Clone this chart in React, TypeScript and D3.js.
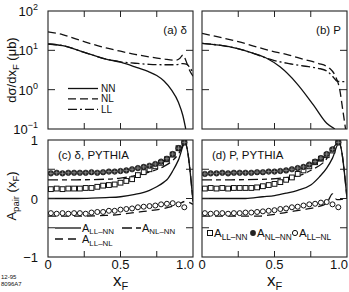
import React from "react";
import * as d3 from "d3";

const W = 349;
const H = 292;
const FONT = "'Liberation Sans', Arial, Helvetica, sans-serif";

// ---------- top panels: dσ/dxF (μb) ----------
const aNNx = [0, 0.1, 0.25, 0.4, 0.5, 0.6, 0.7, 0.75, 0.8, 0.85, 0.9, 0.93, 0.95];
const aNNy = [14.5, 13.2, 8.9, 6.0, 5.0, 3.8, 2.8, 2.3, 1.66, 1.0, 0.47, 0.22, 0.1];
const aNLx = [0, 0.1, 0.25, 0.4, 0.5, 0.6, 0.7, 0.8, 0.88, 0.91, 0.93, 0.95, 0.97, 1.0];
const aNLy = [29.5, 25.1, 16.6, 11.5, 9.5, 7.9, 6.8, 6.0, 5.6, 6.3, 7.6, 5.6, 3.5, 2.2];
const aLLx = [0, 0.1, 0.25, 0.4, 0.5, 0.6, 0.7, 0.8, 0.88, 0.93, 0.96, 0.98, 1.0];
const aLLy = [14.5, 13.2, 8.9, 6.0, 5.1, 4.7, 4.4, 4.3, 4.3, 4.6, 4.4, 3.5, 2.8];

const bNNx = [0, 0.12, 0.24, 0.35, 0.446, 0.538, 0.653, 0.768, 0.86, 0.917];
const bNNy = [15.1, 13.5, 11.2, 8.5, 6.3, 3.8, 1.45, 0.41, 0.14, 0.1];
const bNLx = [0, 0.25, 0.47, 0.6, 0.7, 0.8, 0.88, 0.92, 0.95, 0.97, 0.99];
const bNLy = [26.9, 16.6, 9.8, 7.6, 5.9, 4.7, 3.5, 2.2, 1.0, 0.32, 0.1];
const bLLx = [0, 0.12, 0.24, 0.35, 0.446, 0.5, 0.6, 0.7, 0.8, 0.86, 0.9, 0.93, 0.96, 1.0];
const bLLy = [15.1, 13.5, 11.2, 8.5, 6.3, 5.5, 4.6, 4.0, 3.5, 3.0, 2.2, 1.66, 1.6, 1.6];

const topYTicks = [0.1, 1, 10, 100];
const topYExp = ["−1", "0", "1", "2"];

// ---------- bottom panels: A_pair(xF) ----------
const markX = [0.02, 0.06, 0.1, 0.14, 0.18, 0.22, 0.26, 0.3, 0.34, 0.38, 0.42, 0.46,
  0.5, 0.54, 0.58, 0.62, 0.66, 0.7, 0.74, 0.78, 0.82, 0.86, 0.9, 0.94];

const cNLNN = [0.43, 0.44, 0.43, 0.44, 0.44, 0.44, 0.44, 0.45, 0.44, 0.45, 0.46, 0.46,
  0.47, 0.48, 0.50, 0.52, 0.54, 0.56, 0.59, 0.63, 0.68, 0.76, 0.86, 0.96];
const cLLNN = [0.16, 0.17, 0.16, 0.17, 0.17, 0.17, 0.18, 0.18, 0.20, 0.22, 0.23, 0.24,
  0.27, 0.30, 0.33, 0.40, 0.45, 0.50, 0.55, 0.61, 0.67, 0.75, 0.86, 0.96];
const cLLNL = [-0.25, -0.26, -0.25, -0.26, -0.25, -0.25, -0.26, -0.24, -0.23, -0.23, -0.21, -0.21,
  -0.19, -0.18, -0.17, -0.15, -0.14, -0.13, -0.12, -0.10, -0.09, -0.08, -0.10, -0.15];

const dNLNN = [0.42, 0.43, 0.43, 0.44, 0.43, 0.44, 0.44, 0.44, 0.44, 0.45, 0.45, 0.46,
  0.46, 0.47, 0.48, 0.50, 0.52, 0.54, 0.58, 0.63, 0.69, 0.76, 0.84, 0.96];
const dLLNN = [0.17, 0.18, 0.17, 0.18, 0.17, 0.18, 0.18, 0.18, 0.18, 0.19, 0.21, 0.23,
  0.25, 0.28, 0.32, 0.36, 0.42, 0.48, 0.55, 0.62, 0.68, 0.74, 0.82, 0.96];
const dLLNL = [-0.25, -0.26, -0.25, -0.25, -0.26, -0.25, -0.25, -0.24, -0.24, -0.23, -0.22, -0.21,
  -0.20, -0.18, -0.17, -0.15, -0.14, -0.12, -0.10, -0.09, -0.07, -0.06, -0.10, -0.15];

const cLineLLNNx = [0, 0.1, 0.2, 0.3, 0.4, 0.5, 0.6, 0.7, 0.75, 0.8, 0.82, 0.86, 0.9, 0.945, 1.0];
const cLineLLNNy = [0, 0, 0, 0.005, 0.015, 0.03, 0.07, 0.14, 0.2, 0.28, 0.32, 0.47, 0.66, 0.95, -0.05];
const cLineNLNNx = [0, 0.2, 0.4, 0.5, 0.6, 0.7, 0.8, 0.85, 0.9, 0.945, 1.0];
const cLineNLNNy = [0.32, 0.32, 0.33, 0.35, 0.39, 0.45, 0.55, 0.63, 0.76, 0.95, -0.05];
const cLineLLNLx = [0, 0.2, 0.4, 0.5, 0.6, 0.7, 0.8, 0.85, 0.9, 0.945, 1.0];
const cLineLLNLy = [-0.3, -0.3, -0.29, -0.27, -0.24, -0.21, -0.17, -0.14, -0.1, -0.05, -0.1];

const dLineLLNNx = [0, 0.2, 0.3, 0.42, 0.5, 0.58, 0.66, 0.75, 0.81, 0.86, 0.9, 0.945, 1.0];
const dLineLLNNy = [0, 0, 0, 0.03, 0.05, 0.09, 0.14, 0.23, 0.37, 0.52, 0.69, 0.95, 0.0];
const dLineNLNNx = [0, 0.2, 0.45, 0.55, 0.68, 0.75, 0.84, 0.945, 1.0];
const dLineNLNNy = [0.32, 0.32, 0.33, 0.35, 0.4, 0.48, 0.62, 0.95, 0.0];
const dLineLLNLx = [0, 0.2, 0.4, 0.5, 0.6, 0.7, 0.8, 0.86, 0.9, 0.93, 1.0];
const dLineLLNLy = [-0.3, -0.3, -0.3, -0.27, -0.23, -0.19, -0.14, -0.08, 0.08, -0.02, 0.0];

const xTicks = [0.25, 0.5, 0.75];
const botYTicks = [-0.5, 0, 0.5];

// ---------- geometry ----------
const LEFT = [48, 202];
const PW = 145;
const TOP = { y0: 11, y1: 129 };
const BOT = { y0: 140, y1: 257 };

const zip = (xs: number[], ys: number[]) => xs.map((x, i) => [x, ys[i]] as [number, number]);

function Frame({ x0, y0, y1 }: { x0: number; y0: number; y1: number }) {
  return <rect x={x0} y={y0} width={PW} height={y1 - y0} fill="none" stroke="#222" strokeWidth={1.1} />;
}

function Sub({ x, y, main, sub, size, anchor = "start" }: any) {
  return (
    <text x={x} y={y} fontSize={size} textAnchor={anchor} fontFamily={FONT} fill="#111">
      {main}
      <tspan fontSize={size * 0.72} dy={size * 0.25}>{sub}</tspan>
    </text>
  );
}

function TopPanel({ idx, nn, nl, ll, label }: any) {
  const x0 = LEFT[idx];
  const xs = d3.scaleLinear([0, 1], [x0, x0 + PW]);
  const ys = d3.scaleLog([0.1, 100], [TOP.y1, TOP.y0]);
  const line = d3.line<[number, number]>().x((d) => xs(d[0])).y((d) => ys(Math.max(d[1], 0.1))).curve(d3.curveMonotoneX);
  const clipId = `clipT${idx}`;
  return (
    <g>
      <defs>
        <clipPath id={clipId}><rect x={x0} y={TOP.y0} width={PW} height={TOP.y1 - TOP.y0} /></clipPath>
      </defs>
      <g clipPath={`url(#${clipId})`} fill="none" stroke="#111" strokeWidth={1.3}>
        <path d={line(nl) || ""} strokeDasharray="8,4" />
        <path d={line(ll) || ""} strokeDasharray="9,3,2,3" />
        <path d={line(nn) || ""} />
      </g>
      <Frame x0={x0} y0={TOP.y0} y1={TOP.y1} />
      {xTicks.map((t) => (
        <g key={t} stroke="#222" strokeWidth={1}>
          <line x1={xs(t)} x2={xs(t)} y1={TOP.y0} y2={TOP.y0 + 6} />
          <line x1={xs(t)} x2={xs(t)} y1={TOP.y1} y2={TOP.y1 - 6} />
        </g>
      ))}
      {topYTicks.slice(1, 3).map((t) => (
        <g key={t} stroke="#222" strokeWidth={1}>
          <line x1={x0} x2={x0 + 7} y1={ys(t)} y2={ys(t)} />
          <line x1={x0 + PW} x2={x0 + PW - 7} y1={ys(t)} y2={ys(t)} />
        </g>
      ))}
      <text x={x0 + PW - 6} y={TOP.y0 + 23} fontSize={11.5} textAnchor="end" fontFamily={FONT} fill="#111">{label}</text>
    </g>
  );
}

function Markers({ xs, ys, vals, kind }: any) {
  return (
    <g>
      {markX.map((x: number, i: number) => {
        const cx = xs(x);
        const cy = ys(vals[i]);
        if (kind === "sq")
          return <rect key={i} x={cx - 2.4} y={cy - 2.4} width={4.8} height={4.8} fill="white" stroke="#111" strokeWidth={1} />;
        if (kind === "open")
          return <circle key={i} cx={cx} cy={cy} r={2.5} fill="white" stroke="#111" strokeWidth={1} />;
        return (
          <g key={i}>
            <circle cx={cx} cy={cy} r={2.8} fill="#2a2a2a" stroke="#111" strokeWidth={0.5} />
            <line x1={cx - 2.1} x2={cx + 2.1} y1={cy} y2={cy} stroke="#aaa" strokeWidth={0.6} />
            <line x1={cx} x2={cx} y1={cy - 2.1} y2={cy + 2.1} stroke="#aaa" strokeWidth={0.6} />
          </g>
        );
      })}
    </g>
  );
}

function BotPanel({ idx, llnn, nlnn, llnl, lLLNN, lNLNN, lLLNL, label }: any) {
  const x0 = LEFT[idx];
  const xs = d3.scaleLinear([0, 1], [x0, x0 + PW]);
  const ys = d3.scaleLinear([-1, 1], [BOT.y1, BOT.y0]);
  const line = d3.line<[number, number]>().x((d) => xs(d[0])).y((d) => ys(d[1])).curve(d3.curveMonotoneX);
  const clipId = `clipB${idx}`;
  return (
    <g>
      <defs>
        <clipPath id={clipId}><rect x={x0} y={BOT.y0} width={PW} height={BOT.y1 - BOT.y0} /></clipPath>
      </defs>
      <g clipPath={`url(#${clipId})`}>
        <g fill="none" stroke="#111" strokeWidth={1.3}>
          <path d={line(lLLNL) || ""} strokeDasharray="8,5" />
          <path d={line(lNLNN) || ""} strokeDasharray="10,4,5,4" />
          <path d={line(lLLNN) || ""} />
        </g>
        <Markers xs={xs} ys={ys} vals={llnl} kind="open" />
        <Markers xs={xs} ys={ys} vals={llnn} kind="sq" />
        <Markers xs={xs} ys={ys} vals={nlnn} kind="filled" />
      </g>
      <Frame x0={x0} y0={BOT.y0} y1={BOT.y1} />
      {xTicks.map((t) => (
        <g key={t} stroke="#222" strokeWidth={1}>
          <line x1={xs(t)} x2={xs(t)} y1={BOT.y0} y2={BOT.y0 + 6} />
          <line x1={xs(t)} x2={xs(t)} y1={BOT.y1} y2={BOT.y1 - 6} />
        </g>
      ))}
      {botYTicks.map((t) => (
        <g key={t} stroke="#222" strokeWidth={1}>
          <line x1={x0} x2={x0 + 7} y1={ys(t)} y2={ys(t)} />
          <line x1={x0 + PW} x2={x0 + PW - 7} y1={ys(t)} y2={ys(t)} />
        </g>
      ))}
      <text x={x0 + 10} y={BOT.y0 + 19} fontSize={11.5} fontFamily={FONT} fill="#111">{label}</text>
      <text x={xs(0)} y={269} fontSize={13} textAnchor="middle" fontFamily={FONT} fill="#111">0</text>
      <text x={xs(0.5)} y={269} fontSize={13} textAnchor="middle" fontFamily={FONT} fill="#111">0.5</text>
      <text x={xs(1) + 1} y={269} fontSize={13} textAnchor="end" fontFamily={FONT} fill="#111">1.0</text>
      <text x={xs(0.5)} y={286} fontSize={17} textAnchor="middle" fontFamily={FONT} fill="#111">
        x<tspan fontSize={11} dy={4}>F</tspan>
      </text>
    </g>
  );
}

export default function App() {
  const ysTop = d3.scaleLog([0.1, 100], [TOP.y1, TOP.y0]);
  const ysBot = d3.scaleLinear([-1, 1], [BOT.y1, BOT.y0]);
  const legTop = [
    { name: "NN", dash: "" },
    { name: "NL", dash: "8,4" },
    { name: "LL", dash: "9,3,2,3" },
  ];
  return (
    <svg width={W} height={H} viewBox={`0 0 ${W} ${H}`}
      style={{ position: "fixed", left: 0, top: 0, background: "white" }}>
      <rect width={W} height={H} fill="white" />
      <TopPanel idx={0} nn={zip(aNNx, aNNy)} nl={zip(aNLx, aNLy)} ll={zip(aLLx, aLLy)} label="(a) δ" />
      <TopPanel idx={1} nn={zip(bNNx, bNNy)} nl={zip(bNLx, bNLy)} ll={zip(bLLx, bLLy)} label="(b) P" />
      <BotPanel idx={0} llnn={cLLNN} nlnn={cNLNN} llnl={cLLNL}
        lLLNN={zip(cLineLLNNx, cLineLLNNy)} lNLNN={zip(cLineNLNNx, cLineNLNNy)} lLLNL={zip(cLineLLNLx, cLineLLNLy)}
        label="(c) δ, PYTHIA" />
      <BotPanel idx={1} llnn={dLLNN} nlnn={dNLNN} llnl={dLLNL}
        lLLNN={zip(dLineLLNNx, dLineLLNNy)} lNLNN={zip(dLineNLNNx, dLineNLNNy)} lLLNL={zip(dLineLLNLx, dLineLLNLy)}
        label="(d) P, PYTHIA" />

      {topYTicks.map((t, i) => (
        <text key={t} x={38} y={ysTop(t) + 5} fontSize={13} textAnchor="end" fontFamily={FONT} fill="#111">
          10<tspan fontSize={9} dy={-6}>{topYExp[i]}</tspan>
        </text>
      ))}
      {[1, 0, -1].map((t) => (
        <text key={t} x={38} y={ysBot(t) + 5} fontSize={13} textAnchor="end" fontFamily={FONT} fill="#111">
          {t < 0 ? "−1" : String(t)}
        </text>
      ))}

      <text transform="translate(16,70) rotate(-90)" fontSize={13} textAnchor="middle" fontFamily={FONT} fill="#111">
        dσ/dx<tspan fontSize={9.5} dy={3}>F</tspan><tspan dy={-3}> (μb)</tspan>
      </text>
      <text transform="translate(16,196) rotate(-90)" fontSize={13} textAnchor="middle" fontFamily={FONT} fill="#111">
        A<tspan fontSize={9.5} dy={3}>pair</tspan><tspan dy={-3}> (x</tspan><tspan fontSize={9.5} dy={3}>F</tspan><tspan dy={-3}>)</tspan>
      </text>

      {legTop.map((l, i) => (
        <g key={l.name}>
          <line x1={68} x2={98} y1={88.5 + i * 10.4} y2={88.5 + i * 10.4} stroke="#111" strokeWidth={1.3} strokeDasharray={l.dash} />
          <text x={101} y={92 + i * 10.4} fontSize={10} fontFamily={FONT} fill="#111">{l.name}</text>
        </g>
      ))}

      <line x1={55} x2={81} y1={228} y2={228} stroke="#111" strokeWidth={1.3} />
      <Sub x={82} y={231.5} main="A" sub="LL–NN" size={11} />
      <line x1={122} x2={141} y1={228} y2={228} stroke="#111" strokeWidth={1.3} strokeDasharray="10,4,5,4" />
      <Sub x={142} y={231.5} main="A" sub="NL–NN" size={11} />
      <line x1={55} x2={79} y1={239} y2={239} stroke="#111" strokeWidth={1.3} strokeDasharray="8,5" />
      <Sub x={82} y={243} main="A" sub="LL–NL" size={11} />

      <rect x={207.5} y={230.5} width={5} height={5} fill="white" stroke="#111" strokeWidth={1} />
      <Sub x={214} y={237} main="A" sub="LL–NN" size={11.5} />
      <circle cx={253} cy={233} r={2.9} fill="#222" />
      <Sub x={257} y={237} main="A" sub="NL–NN" size={11.5} />
      <circle cx={295} cy={233} r={2.6} fill="white" stroke="#111" strokeWidth={1} />
      <Sub x={299} y={237} main="A" sub="LL–NL" size={11.5} />

      <text x={1} y={279} fontSize={6} fontFamily={FONT} fill="#111">12-95</text>
      <text x={1} y={286} fontSize={6} fontFamily={FONT} fill="#111">8096A7</text>
    </svg>
  );
}
